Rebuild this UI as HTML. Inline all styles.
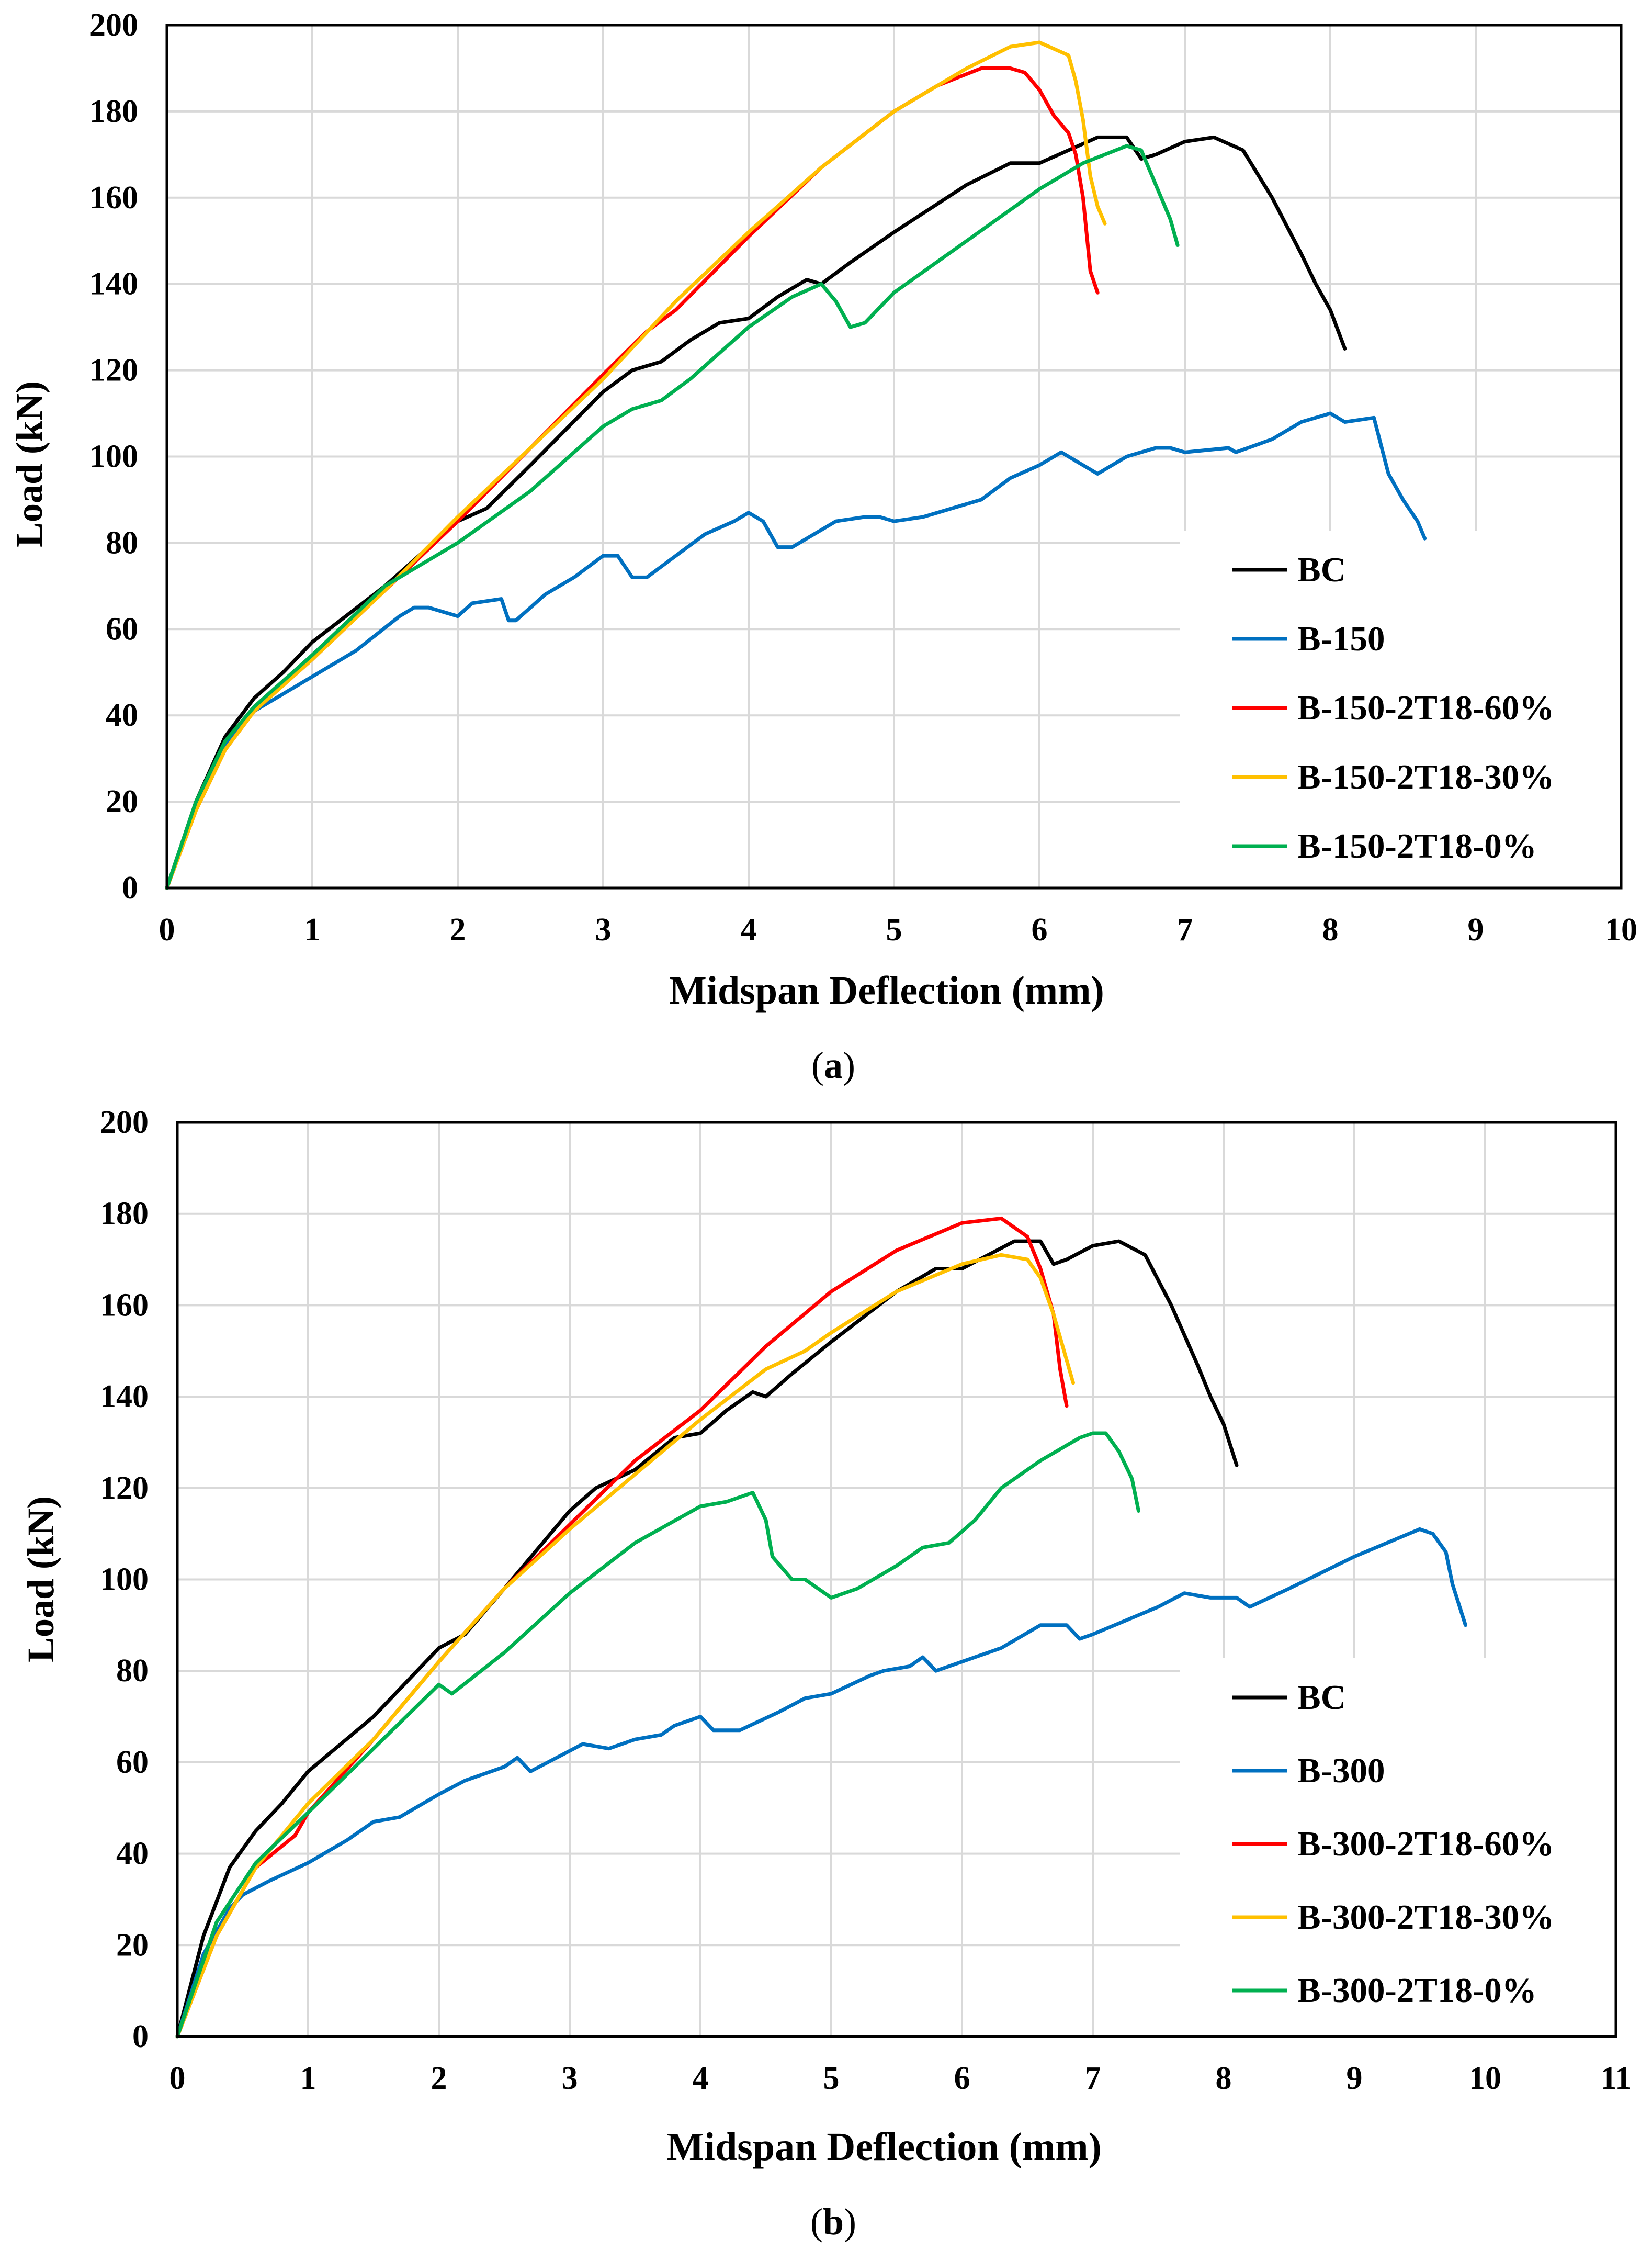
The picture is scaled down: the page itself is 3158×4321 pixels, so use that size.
<!DOCTYPE html>
<html><head><meta charset="utf-8">
<style>
html,body{margin:0;padding:0;background:#fff;}
svg{display:block;}
text{font-family:"Liberation Serif","Times New Roman",serif;font-weight:bold;fill:#000;}
</style></head>
<body>
<svg id="fig" width="3158" height="4321" viewBox="0 0 3158 4321" xmlns="http://www.w3.org/2000/svg"></svg>
<script>
// ---- Panel (a) data ----
const aXTicks = [0,1,2,3,4,5,6,7,8,9,10];
const aYTicks = [0,20,40,60,80,100,120,140,160,180,200];
const aNames = ["BC","B-150","B-150-2T18-60%","B-150-2T18-30%","B-150-2T18-0%"];
const aBC_x = [0,0.2,0.4,0.6,0.8,1,1.5,2,2.2,2.5,3,3.2,3.4,3.6,3.8,4,4.2,4.4,4.5,4.7,5,5.5,5.8,6,6.2,6.4,6.5,6.6,6.7,6.8,7.0,7.2,7.4,7.6,7.8,7.9,8.0,8.1];
const aBC_y = [0,20,35,44,50,57,70,85,88,98,115,120,122,127,131,132,137,141,140,145,152,163,168,168,171,174,174,174,169,170,173,174,171,160,147,140,134,125];
const aB150_x = [0,0.2,0.4,0.6,0.8,1,1.3,1.6,1.7,1.8,2.0,2.1,2.3,2.35,2.4,2.6,2.8,3.0,3.1,3.2,3.3,3.5,3.7,3.9,4.0,4.1,4.2,4.3,4.5,4.6,4.8,4.9,5.0,5.2,5.4,5.6,5.8,6.0,6.15,6.3,6.4,6.6,6.8,6.9,7.0,7.3,7.35,7.6,7.8,8.0,8.1,8.3,8.4,8.5,8.6,8.65];
const aB150_y = [0,19,33,41,45,49,55,63,65,65,63,66,67,62,62,68,72,77,77,72,72,77,82,85,87,85,79,79,83,85,86,86,85,86,88,90,95,98,101,98,96,100,102,102,101,102,101,104,108,110,108,109,96,90,85,81];
const aR60_x = [0,0.2,0.4,0.6,1,1.5,2,2.5,3,3.3,3.5,4,4.5,5,5.3,5.6,5.8,5.9,6.0,6.1,6.2,6.25,6.3,6.35,6.4];
const aR60_y = [0,18,32,41,53,69,85,102,119,129,134,151,167,180,186,190,190,189,185,179,175,170,160,143,138];
const aR30_x = [0,0.2,0.4,0.6,1,1.5,2,2.5,3,3.5,4,4.5,5,5.5,5.8,6.0,6.2,6.25,6.3,6.35,6.4,6.45];
const aR30_y = [0,18,32,41,53,69,86,102,118,136,152,167,180,190,195,196,193,187,178,165,158,154];
const aR0_x = [0,0.2,0.4,0.6,1,1.5,2,2.5,3,3.2,3.4,3.6,4,4.3,4.5,4.6,4.7,4.8,5,5.5,6,6.3,6.6,6.7,6.8,6.9,6.95];
const aR0_y = [0,20,34,42,54,70,80,92,107,111,113,118,130,137,140,136,130,131,138,150,162,168,172,171,163,155,149];

// ---- Panel (b) data ----
const bXTicks = [0,1,2,3,4,5,6,7,8,9,10,11];
const bYTicks = [0,20,40,60,80,100,120,140,160,180,200];
const bNames = ["BC","B-300","B-300-2T18-60%","B-300-2T18-30%","B-300-2T18-0%"];
const bBC_x = [0,0.2,0.4,0.6,0.8,1,1.5,2,2.2,2.5,3,3.2,3.5,3.8,4,4.2,4.4,4.5,4.7,5,5.5,5.8,6,6.2,6.4,6.5,6.6,6.7,6.8,7.0,7.2,7.4,7.6,7.8,7.9,8.0,8.1];
const bBC_y = [0,22,37,45,51,58,70,85,88,98,115,120,124,131,132,137,141,140,145,152,163,168,168,171,174,174,174,169,170,173,174,171,160,147,140,134,125];
const bB300_x = [0,0.2,0.4,0.5,0.7,1,1.3,1.5,1.7,2.0,2.2,2.5,2.6,2.7,2.9,3.1,3.3,3.5,3.7,3.8,4.0,4.1,4.3,4.6,4.8,5.0,5.3,5.4,5.6,5.7,5.8,6.0,6.3,6.6,6.8,6.9,7.0,7.5,7.7,7.9,8.1,8.2,8.5,9.0,9.5,9.6,9.7,9.75,9.85];
const bB300_y = [0,18,28,31,34,38,43,47,48,53,56,59,61,58,61,64,63,65,66,68,70,67,67,71,74,75,79,80,81,83,80,82,85,90,90,87,88,94,97,96,96,94,98,105,111,110,106,99,90];
const bR60_x = [0,0.3,0.6,0.9,1,1.5,2,2.5,3,3.5,4,4.5,5,5.5,6,6.3,6.5,6.6,6.7,6.75,6.8];
const bR60_y = [0,22,37,44,49,65,82,98,112,126,137,151,163,172,178,179,175,168,158,146,138];
const bR30_x = [0,0.3,0.6,1,1.5,2,2.5,3,3.5,4,4.5,4.8,5,5.5,6,6.3,6.5,6.6,6.7,6.8,6.85];
const bR30_y = [0,22,37,51,65,82,98,111,123,135,146,150,154,163,169,171,170,166,158,148,143];
const bR0_x = [0,0.3,0.6,1,1.5,2,2.1,2.5,3,3.5,4,4.2,4.4,4.5,4.55,4.7,4.8,5,5.2,5.5,5.7,5.9,6.1,6.3,6.6,6.9,7.0,7.1,7.2,7.3,7.35];
const bR0_y = [0,25,38,49,63,77,75,84,97,108,116,117,119,113,105,100,100,96,98,103,107,108,113,120,126,131,132,132,128,122,115];

const colors = ["#000000","#0070C0","#FF0000","#FFC000","#00B050"];
const NS = "http://www.w3.org/2000/svg";
const svg = document.getElementById('fig');

function mk(tag, attrs, parent){
  const e = document.createElementNS(NS, tag);
  for (const k in attrs) e.setAttribute(k, attrs[k]);
  (parent||svg).appendChild(e);
  return e;
}

function panel(cfg){
  const g = mk('g', {});
  
  
  const sx = v => cfg.x0 + (v - 0) / cfg.xmax * (cfg.x1 - cfg.x0);
  const sy = v => cfg.y0 - v / 200 * (cfg.y0 - cfg.y1);
  cfg.xticks.forEach(t => {
    if (t === 0 || t === cfg.xmax) return;
    const l = mk('line', {x1:sx(t), x2:sx(t), y1:cfg.y1, y2:cfg.y0, stroke:'#d9d9d9','stroke-width':4}, g);
    
    
  });
  cfg.yticks.forEach(t => {
    if (t === 0 || t === 200) return;
    const l = mk('line', {x1:cfg.x0, x2:cfg.x1, y1:sy(t), y2:sy(t), stroke:'#d9d9d9','stroke-width':4}, g);
    
    
  });
  const lb = mk('rect', {x:cfg.legX-100, y:cfg.legY0-75, width:cfg.x1-cfg.legX+100, height:cfg.y0-cfg.legY0+75, fill:'#fff'}, g);
  
  
  cfg.series.forEach((s, i) => {
    const d = s.x.map((xv, j) => (j ? 'L' : 'M') + sx(xv).toFixed(1) + ',' + sy(s.y[j]).toFixed(1)).join(' ');
    const p = mk('path', {d:d, fill:'none', stroke:colors[i], 'stroke-width':7, 'stroke-linejoin':'round', 'stroke-linecap':'round'}, g);
    
    
  });
  const fr = mk('rect', {x:cfg.x0, y:cfg.y1, width:cfg.x1-cfg.x0, height:cfg.y0-cfg.y1, fill:'none', stroke:'#000','stroke-width':5}, g);
  
  
  cfg.xticks.forEach(t => {
    const tx = mk('text', {x:sx(t), y:cfg.y0+100, 'font-size':62, 'text-anchor':'middle'}, g);
    tx.textContent = t;
    
    
  });
  cfg.yticks.forEach(t => {
    const tx = mk('text', {x:cfg.x0-55, y:sy(t)+20, 'font-size':62, 'text-anchor':'end'}, g);
    tx.textContent = t;
    
    
  });
  cfg.names.forEach((n, i) => {
    const yy = cfg.legY0 + i * cfg.legDy;
    const ll = mk('line', {x1:cfg.legX, x2:cfg.legX+105, y1:yy, y2:yy, stroke:colors[i], 'stroke-width':7}, g);
    
    
    const tx = mk('text', {x:cfg.legX+124, y:yy+22, 'font-size':67}, g);
    tx.textContent = n;
    
    
  });
  const xt = mk('text', {x:cfg.xtX, y:cfg.xtY, 'font-size':76, 'text-anchor':'middle'}, g);
  xt.textContent = 'Midspan Deflection (mm)';
  
  
  const yt = mk('text', {x:0, y:0, 'font-size':72, 'text-anchor':'middle', transform:'translate(' + cfg.ytX + ',' + cfg.ytY + ') rotate(-90)'}, g);
  yt.textContent = 'Load (kN)';
  
  
  const cap = mk('text', {x:1593, y:cfg.capY, 'font-size':72, 'text-anchor':'middle'}, g);
  cap.innerHTML = '(<tspan font-weight="bold">' + cfg.cap + '</tspan>)';
  cap.setAttribute('style', 'font-weight:normal');
  
  
}

panel({id:'panel-a', x0:319, x1:3099, xmax:10, y0:1697, y1:48,
  xticks:aXTicks, yticks:aYTicks, names:aNames,
  series:[{x:aBC_x,y:aBC_y},{x:aB150_x,y:aB150_y},{x:aR60_x,y:aR60_y},{x:aR30_x,y:aR30_y},{x:aR0_x,y:aR0_y}],
  legX:2356, legY0:1089, legDy:132, xtX:1695, xtY:1918, ytX:80, ytY:887, capY:2060, cap:'a'});

panel({id:'panel-b', x0:339, x1:3089, xmax:11, y0:3892, y1:2145,
  xticks:bXTicks, yticks:bYTicks, names:bNames,
  series:[{x:bBC_x,y:bBC_y},{x:bB300_x,y:bB300_y},{x:bR60_x,y:bR60_y},{x:bR30_x,y:bR30_y},{x:bR0_x,y:bR0_y}],
  legX:2356, legY0:3244, legDy:140, xtX:1690, xtY:4128, ytX:102, ytY:3018, capY:4270, cap:'b'});
</script>
</body></html>
